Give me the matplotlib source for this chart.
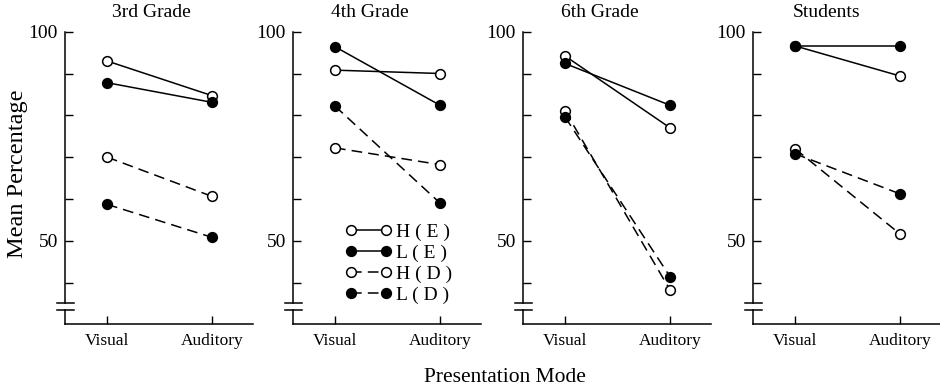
import matplotlib
matplotlib.use("Agg")
import matplotlib.pyplot as plt
from matplotlib.lines import Line2D

plt.rcParams['font.family'] = ['Liberation Serif', 'DejaVu Serif']

panels = ['3rd Grade', '4th Grade', '6th Grade', 'Students']
modes = ['Visual', 'Auditory']
series = ['H ( E )', 'L ( E )', 'H ( D )', 'L ( D )']

# mean percentage per series, [visual, auditory]
h_e = [[93.0, 84.7], [90.8, 90.0], [94.2, 77.0], [96.6, 89.4]]
l_e = [[87.8, 83.1], [96.4, 82.4], [92.4, 82.4], [96.6, 96.6]]
h_d = [[70.0, 60.6], [72.2, 68.2], [81.1, 38.2], [72.0, 51.6]]
l_d = [[58.7, 50.8], [82.2, 59.0], [79.6, 41.4], [70.8, 61.2]]

yticks = [40, 50, 60, 70, 80, 90, 100]
ytick_labels = ['', '50', '', '', '', '', '100']

styles = [
    dict(ls='-', mfc='white'),
    dict(ls='-', mfc='black'),
    dict(ls=(0, (7, 4)), mfc='white'),
    dict(ls=(0, (7, 4)), mfc='black'),
]

fig = plt.figure(figsize=(9.4, 3.88), dpi=100)
W, H = 940, 388
lefts = [65, 293, 523, 753]
title_x = [0.46, 0.41, 0.41, 0.39]
ax_w, ax_bot, ax_top = 188, 324.3, 31.7

x = [0, 1]
axes = []
for i, name in enumerate(panels):
    ax = fig.add_axes([lefts[i] / W, (H - ax_bot) / H, ax_w / W, (ax_bot - ax_top) / H])
    axes.append(ax)
    for data, st in zip([h_e, l_e, h_d, l_d], styles):
        ax.plot(x, data[i], color='black', lw=1.1, linestyle=st['ls'],
                marker='o', ms=7, mfc=st['mfc'], mec='black', mew=1.1,
                clip_on=False, zorder=3)
    ax.set_xlim(-0.4, 1.39)
    ax.set_ylim(30, 100)
    ax.set_xticks(x)
    ax.set_xticklabels(modes, fontsize=12.5)
    ax.set_yticks(yticks)
    ax.set_yticklabels(ytick_labels, fontsize=14)
    ax.tick_params(direction='in', length=6, width=1.0, pad=6)
    ax.tick_params(axis='y', pad=5)
    for s in ['top', 'right']:
        ax.spines[s].set_visible(False)
    for s in ['left', 'bottom']:
        ax.spines[s].set_linewidth(1.1)
    # axis break on the y axis
    ax.spines['left'].set_bounds(35, 100)
    tr = ax.get_yaxis_transform()
    ax.plot([0, 0], [30, 33.5], color='black', lw=1.1, transform=tr, clip_on=False)
    for yb in [33.5, 35]:
        ax.plot([-0.045, 0.05], [yb, yb], color='black', lw=1.1, transform=tr, clip_on=False)
    ax.text(title_x[i], 1.035, name, transform=ax.transAxes, ha='center', va='bottom',
            fontsize=14)

handles = [Line2D([], [], color='black', lw=1.1, linestyle=st['ls'], marker='o', ms=7,
                  mfc=st['mfc'], mec='black', mew=1.1) for st in styles]
axes[1].legend(handles, series, loc='upper left', bbox_to_anchor=(0.275, 0.345),
               frameon=False, numpoints=2, handlelength=2.4, handletextpad=0.25,
               labelspacing=0.17, borderpad=0, borderaxespad=0, fontsize=14)

fig.text(505 / W, 1 - 378 / H, 'Presentation Mode', ha='center', va='center', fontsize=15.5)
fig.text(18 / W, 1 - 174 / H, 'Mean Percentage', ha='center', va='center', rotation=90,
         fontsize=17.5)

fig.savefig('out.png', dpi=100)
